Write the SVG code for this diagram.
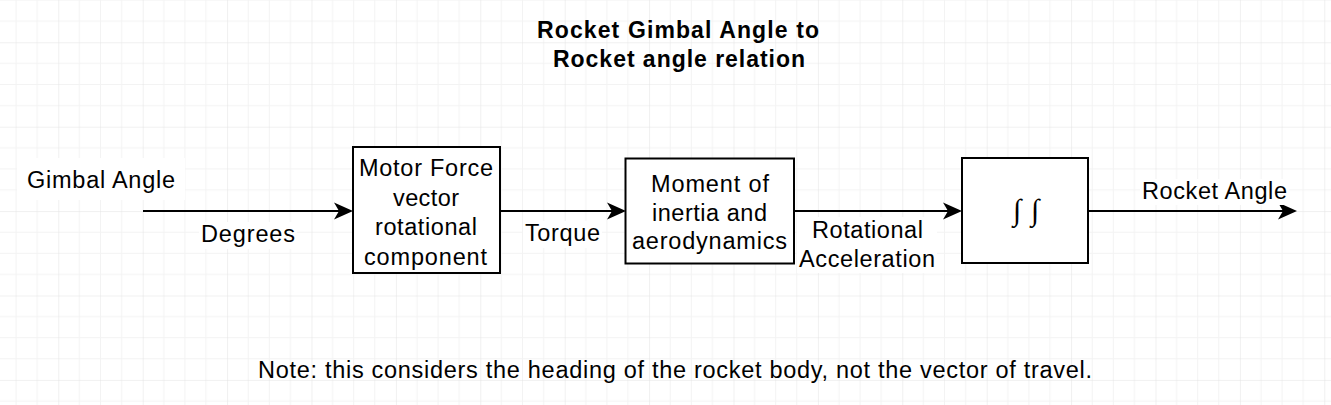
<svg xmlns="http://www.w3.org/2000/svg" width="1331" height="405" viewBox="0 0 1331 405">
  <style>
    .lbl { font-family: "Liberation Sans", Arial, Helvetica, sans-serif; font-size: 23.5px; fill: #000; }
    .title { font-family: "Liberation Sans", Arial, Helvetica, sans-serif; font-size: 23px; font-weight: bold; fill: #000; }
    .int { font-family: "Liberation Serif", "Times New Roman", serif; font-size: 30px; fill: #000; }
    .box { fill: #fff; stroke: #000; stroke-width: 2; }
    .edge { fill: none; stroke: #000; stroke-width: 2; marker-end: url(#arrow); }
    .bg { fill: #fff; }
  </style>
  <defs>
    <pattern id="grid" patternUnits="userSpaceOnUse" x="-26.1" y="-42.1" width="84.4" height="84.4">
      <path d="M21.1 0V84.4M42.2 0V84.4M63.3 0V84.4M0 21.1H84.4M0 42.2H84.4M0 63.3H84.4" stroke="#f3f3f3" stroke-width="1" fill="none"/>
      <path d="M0 0V84.4M0 0H84.4" stroke="#e2e2e2" stroke-width="1" fill="none"/>
    </pattern>
    <marker id="arrow" markerUnits="userSpaceOnUse" viewBox="0 0 19 18" refX="15" refY="9" markerWidth="19" markerHeight="18" orient="auto">
      <path d="M0 0.5 L19 9 L0 17.5 L5 9 Z" fill="#000"/>
    </marker>
  </defs>

  <rect x="0" y="0" width="1331" height="405" fill="#fff"/>
  <rect x="0" y="0" width="1331" height="405" fill="url(#grid)"/>

  <g id="title">
    <text class="title" x="537" y="38" textLength="282">Rocket Gimbal Angle to</text>
    <text class="title" x="553" y="67" textLength="252">Rocket angle relation</text>
  </g>

  <g id="connectors">
    <line class="edge" x1="143" y1="211" x2="349" y2="211"/>
    <line class="edge" x1="500" y1="211" x2="622" y2="211"/>
    <line class="edge" x1="794" y1="211" x2="958" y2="211"/>
    <line class="edge" x1="1088" y1="211" x2="1293" y2="211"/>
  </g>

  <g id="label-gimbal">
    <rect class="bg" x="17" y="158" width="168" height="42"/>
    <text class="lbl" x="27" y="188" textLength="148">Gimbal Angle</text>
  </g>
  <g id="label-degrees">
    <rect class="bg" x="199" y="222" width="98" height="27"/>
    <text class="lbl" x="201" y="242" textLength="94">Degrees</text>
  </g>
  <g id="node-motor">
    <rect class="box" x="353" y="147" width="147" height="126"/>
    <text class="lbl" x="359" y="176" textLength="134">Motor Force</text>
    <text class="lbl" x="393" y="205.5" textLength="66">vector</text>
    <text class="lbl" x="375" y="235" textLength="102">rotational</text>
    <text class="lbl" x="364" y="264.5" textLength="123">component</text>
  </g>
  <g id="label-torque">
    <rect class="bg" x="523" y="221" width="79" height="27"/>
    <text class="lbl" x="525" y="241" textLength="75">Torque</text>
  </g>
  <g id="node-moment">
    <rect class="box" x="625.5" y="158.5" width="168.5" height="105"/>
    <text class="lbl" x="651" y="192" textLength="118">Moment of</text>
    <text class="lbl" x="652" y="220.5" textLength="115">inertia and</text>
    <text class="lbl" x="632" y="249" textLength="155">aerodynamics</text>
  </g>
  <g id="label-rotational">
    <rect class="bg" x="797" y="217" width="140" height="56"/>
    <text class="lbl" x="812" y="237.5" textLength="111">Rotational</text>
    <text class="lbl" x="799" y="267" textLength="136">Acceleration</text>
  </g>
  <g id="node-integral">
    <rect class="box" x="962" y="158" width="126" height="105"/>
    <text class="int" x="1017" y="220" text-anchor="middle">∫</text>
    <text class="int" x="1035" y="220" text-anchor="middle">∫</text>
  </g>
  <g id="label-rocket-angle">
    <rect class="bg" x="1140" y="179" width="149" height="26"/>
    <text class="lbl" x="1142" y="199" textLength="145">Rocket Angle</text>
  </g>
  <g id="note">
    <text class="lbl" x="258" y="378" textLength="834">Note: this considers the heading of the rocket body, not the vector of travel.</text>
  </g>
</svg>
